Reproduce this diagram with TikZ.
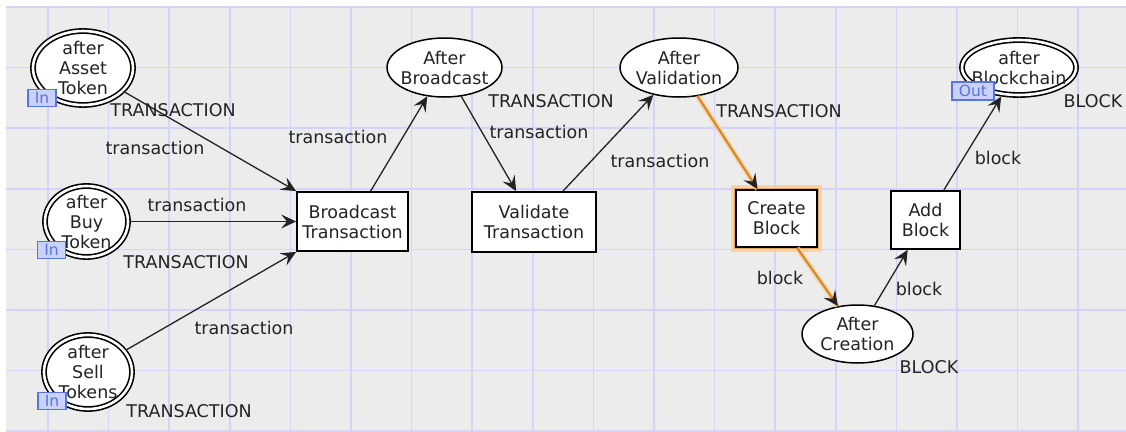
\documentclass[tikz,border=0pt]{standalone}
\usepackage{fontspec}
\setmainfont{DejaVu Sans}
\usetikzlibrary{arrows.meta,shapes.geometric}
\definecolor{canvas}{RGB}{236,236,236}
\definecolor{gridc}{RGB}{212,212,250}
\definecolor{ink}{RGB}{35,35,35}
\definecolor{hl}{RGB}{212,137,42}
\definecolor{hlglow}{RGB}{250,205,150}
\definecolor{tagblue}{RGB}{88,115,228}
\definecolor{tagfill}{RGB}{202,210,250}

\begin{document}
\begin{tikzpicture}[x=1pt,y=-1pt,
  font=\fontsize{17.5}{20}\selectfont,
  trans/.style={rectangle, draw=black, line width=1.8pt, fill=white, inner sep=0pt, text=ink, align=center},
  place/.style={ellipse, draw=black, line width=1.5pt, fill=white, inner sep=0pt},
  port/.style={ellipse, draw=black, line width=1.6pt, double=white, double distance=2.6pt, fill=white, inner sep=0pt, outer sep=2.9pt},
  txt/.style={text=ink, inner sep=0pt, align=center},
  lbl/.style={text=ink, inner sep=0pt},
  tip/.style={-{Stealth[length=15pt,width=14pt,inset=6pt]}},
  arc/.style={draw=ink, line width=1.3pt, tip},
  hlarc/.style={draw=hl, line width=2.2pt, -{Stealth[length=15pt,width=14pt,inset=6pt,color=ink]}},
  hlhalo/.style={draw=hlglow, line width=5.5pt, opacity=.7},
  tag/.style={rectangle, draw=tagblue, fill=tagfill, text=tagblue, line width=1.1pt, inner sep=0pt,
    minimum width=28pt, minimum height=17pt, font=\fontsize{15.5}{15.5}\selectfont},
]
\useasboundingbox (0,0) rectangle (1126,431);

% canvas and grid
\fill[white] (0,0) rectangle (1126,431);
\fill[canvas] (6,7) rectangle (1126,431);
\foreach \i in {0,...,17}
  \draw[gridc, line width=1.5pt] ({48+60.6*\i},7) -- ({48+60.6*\i},431);
\foreach \j in {0,...,7}
  \draw[gridc, line width=1.5pt] (6,{7+60.6*\j}) -- (1126,{7+60.6*\j});

% input / output port places
\node[port, minimum width=100pt, minimum height=74pt] (asset) at (83,68) {};
\node[txt] (asset-t) at (83,68) {after\\Asset\\Token};
\node[tag] (asset-in) at (42,98) {In};

\node[port, minimum width=83pt, minimum height=71pt] (buy) at (86.5,221.5) {};
\node[txt] (buy-t) at (86.5,221.5) {after\\Buy\\Token};
\node[tag] (buy-in) at (51.5,250) {In};

\node[port, minimum width=88pt, minimum height=74pt] (sell) at (88,372) {};
\node[txt] (sell-t) at (88,372) {after\\Sell\\Tokens};
\node[tag] (sell-in) at (52,401) {In};

\node[port, minimum width=114pt, minimum height=55pt] (chain) at (1019,67.5) {};
\node[txt] (chain-t) at (1019,67.5) {after\\Blockchain};
\node[tag, minimum width=42pt, minimum height=18pt] (chain-out) at (973,91) {Out};

% ordinary places
\node[place, minimum width=115pt, minimum height=59pt] (ab) at (444.5,67.5) {};
\node[txt] (ab-t) at (444.5,67.5) {After\\Broadcast};
\node[place, minimum width=118pt, minimum height=59pt] (av) at (679,67.5) {};
\node[txt] (av-t) at (679,67.5) {After\\Validation};
\node[place, minimum width=111pt, minimum height=58pt] (ac) at (857.5,334) {};
\node[txt] (ac-t) at (857.5,334) {After\\Creation};

% transitions
\node[trans, minimum width=111pt, minimum height=59pt] (bt) at (352.5,221.5) {Broadcast\\Transaction};
\node[trans, minimum width=124pt, minimum height=60pt] (vt) at (534,222) {Validate\\Transaction};
\node[trans, minimum width=81pt, minimum height=57pt,
  preaction={draw=hlglow, line width=10pt, opacity=.8},
  preaction={draw=hl!75, line width=4.5pt}] (cb) at (776.5,218.5) {Create\\Block};
\node[trans, minimum width=69pt, minimum height=58pt] (add) at (925.5,220) {Add\\Block};

% arcs
\draw[arc] (asset) -- (bt.north west);
\draw[arc] (buy) -- (bt.west);
\draw[arc] (sell) -- (bt.south west);
\draw[arc] (bt) -- (ab);
\draw[arc] (ab) -- (vt);
\draw[arc] (vt) -- (av);
\draw[hlhalo] (av) -- (cb);
\draw[hlarc] (av) -- (cb);
\draw[hlhalo] (cb) -- (ac);
\draw[hlarc] (cb) -- (ac);
\draw[arc] (ac) -- (add);
\draw[arc] (add) -- (chain);

% colour sets and arc inscriptions
\node[lbl] (asset-c) at (173,110) {TRANSACTION};
\node[lbl] (asset-a) at (155,148) {transaction};
\node[lbl] (buy-a) at (197,205) {transaction};
\node[lbl] (buy-c) at (186,262) {TRANSACTION};
\node[lbl] (sell-a) at (244,328) {transaction};
\node[lbl] (sell-c) at (189,411) {TRANSACTION};
\node[lbl] (bt-a) at (338,137) {transaction};
\node[lbl] (ab-c) at (551,101) {TRANSACTION};
\node[lbl] (ab-a) at (539,132) {transaction};
\node[lbl] (vt-a) at (660,161) {transaction};
\node[lbl] (av-c) at (779,111) {TRANSACTION};
\node[lbl] (cb-a) at (780,278) {block};
\node[lbl] (ac-a) at (919,289) {block};
\node[lbl] (ac-c) at (929,367) {BLOCK};
\node[lbl] (add-a) at (998,158) {block};
\node[lbl] (chain-c) at (1093,101) {BLOCK};
\end{tikzpicture}
\end{document}
